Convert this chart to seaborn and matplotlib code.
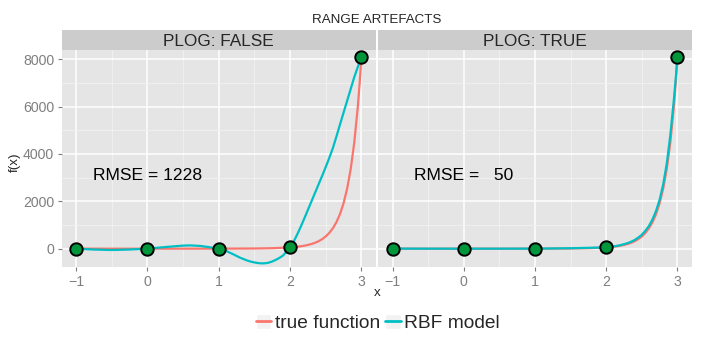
import matplotlib
matplotlib.use("Agg")
import matplotlib.pyplot as plt
import pandas as pd
import seaborn as sns
from matplotlib.lines import Line2D
from matplotlib.patches import Patch
from matplotlib.legend_handler import HandlerTuple
from matplotlib.ticker import FixedLocator

# curves sampled off the reference chart
true_x = [-1.0, -0.5, 0.0, 0.5, 1.0, 1.25, 1.5, 1.75, 2.0, 2.05, 2.1, 2.15,
          2.2, 2.25, 2.3, 2.35, 2.4, 2.45, 2.5, 2.55, 2.6, 2.65, 2.7, 2.75,
          2.8, 2.85, 2.9, 2.95, 2.975, 3.0]
true_y = [3, 1, 1, 1, 3, 5, 9, 21, 55, 67, 82, 101,
          127, 158, 199, 250, 317, 404, 518, 668, 864, 1123, 1466, 1924,
          2540, 3370, 4490, 6020, 6980, 8103]

rbf_false_x = [-1.0, -0.75, -0.5, -0.25, 0.0, 0.25, 0.5, 0.6, 0.75, 0.9, 1.0,
               1.1, 1.2, 1.3, 1.4, 1.45, 1.5, 1.55, 1.6, 1.65, 1.7, 1.75, 1.8,
               1.85, 1.9, 1.95, 2.0, 2.05, 2.1, 2.15, 2.2, 2.25, 2.3, 2.35,
               2.4, 2.45, 2.5, 2.55, 2.6, 2.65, 2.7, 2.75, 2.8, 2.85, 2.9,
               2.95, 3.0]
rbf_false_y = [3, -35, -55, -35, 1, 70, 130, 140, 115, 50, 3,
               -90, -230, -380, -500, -545, -580, -605, -620, -615, -590, -540, -470,
               -390, -290, -130, 55, 300, 600, 930, 1280, 1640, 2000, 2360,
               2720, 3080, 3450, 3840, 4250, 4740, 5250, 5750, 6250, 6750, 7250,
               7680, 8103]

rbf_true_x = [-1.0, -0.5, 0.0, 0.5, 1.0, 1.5, 2.0, 2.1, 2.2, 2.3, 2.35, 2.4,
              2.45, 2.5, 2.55, 2.6, 2.65, 2.7, 2.75, 2.8, 2.85, 2.9, 2.95,
              2.975, 3.0]
rbf_true_y = [3, 2, 1, 2, 3, 20, 55, 95, 150, 235, 295, 370,
              470, 590, 760, 960, 1240, 1600, 2070, 2720, 3600, 4800, 6300,
              7150, 8103]

pts_x = [-1, 0, 1, 2, 3]
pts_y = [3, 1, 3, 55, 8103]

panels = ["PLOG: FALSE", "PLOG: TRUE"]
rmse = [1228, 50]
series = ["true function", "RBF model"]
colors = {"true function": "#F8766D", "RBF model": "#00BFC4"}

frames = []
for panel, rx, ry in [(panels[0], rbf_false_x, rbf_false_y),
                      (panels[1], rbf_true_x, rbf_true_y)]:
    frames.append(pd.DataFrame({"x": true_x, "y": true_y,
                                "series": series[0], "panel": panel}))
    frames.append(pd.DataFrame({"x": rx, "y": ry,
                                "series": series[1], "panel": panel}))
df = pd.concat(frames, ignore_index=True)
pts = pd.DataFrame({"x": pts_x, "y": pts_y})

sns.set_style("white")
plt.rcParams["font.family"] = ["Liberation Sans", "DejaVu Sans"]

W, H = 706, 353
fig = plt.figure(figsize=(W / 100, H / 100), dpi=100)
fig.patch.set_facecolor("white")

panel_boxes = [(61.7, 375.7), (378.3, 691.7)]
top, bottom = 50, 266.7

for i, (x0, x1) in enumerate(panel_boxes):
    ax = fig.add_axes([x0 / W, (H - bottom) / H, (x1 - x0) / W, (bottom - top) / H])
    ax.set_facecolor("#E5E5E5")
    for s in ax.spines.values():
        s.set_visible(False)

    sub = df[df["panel"] == panels[i]]
    sns.lineplot(data=sub, x="x", y="y", hue="series", hue_order=series,
                 palette=colors, sort=False, estimator=None, linewidth=1.6,
                 legend=False, ax=ax, zorder=3)
    sns.scatterplot(data=pts, x="x", y="y", color="#00963C", edgecolor="black",
                    linewidth=1.4, s=80, ax=ax, zorder=5, clip_on=False)

    ax.set_xlim(-1.2, 3.2)
    ax.set_ylim(-760, 8392)
    ax.set_xticks([-1, 0, 1, 2, 3])
    ax.set_yticks([0, 2000, 4000, 6000, 8000])
    ax.xaxis.set_minor_locator(FixedLocator([-0.5, 0.5, 1.5, 2.5]))
    ax.yaxis.set_minor_locator(FixedLocator([1000, 3000, 5000, 7000]))
    ax.grid(which="minor", color="#F2F2F2", linewidth=0.6, zorder=0)
    ax.grid(which="major", color="white", linewidth=1.1, zorder=1)
    ax.set_axisbelow(True)
    ax.tick_params(axis="both", which="major", length=3, width=0.8,
                   color="#7F7F7F", labelcolor="#7F7F7F", labelsize=10.2,
                   bottom=True, left=(i == 0), labelleft=(i == 0))
    ax.tick_params(axis="x", which="major", pad=3.2)
    ax.tick_params(axis="y", which="major", pad=2.5)
    ax.tick_params(axis="both", which="minor", length=0)
    ax.set_xlabel("")
    ax.set_ylabel("")

    ax.text(0, 3100, f"RMSE = {rmse[i]:4d}", ha="center", va="center",
            fontsize=12.6, color="black", zorder=6)

    strip = fig.add_axes([x0 / W, (H - top) / H, (x1 - x0) / W, 20 / H])
    strip.set_facecolor("#CCCCCC")
    strip.set_xticks([])
    strip.set_yticks([])
    for s in strip.spines.values():
        s.set_visible(False)
    strip.text(0.5, 0.45, panels[i], ha="center", va="center",
               fontsize=12.4, transform=strip.transAxes)

fig.text(377 / W, 1 - 20 / H, "RANGE ARTEFACTS", ha="center", va="center",
         fontsize=9.6)
fig.text(377 / W, 1 - 293 / H, "x", ha="center", va="center", fontsize=9.6)
fig.text(15 / W, 1 - 162 / H, "f(x)", ha="center", va="center", rotation=90,
         fontsize=9.6)

handles = [(Patch(facecolor="#F2F2F2", edgecolor="white"),
            Line2D([], [], color=colors[s], linewidth=2)) for s in series]
fig.legend(handles, series, handler_map={tuple: HandlerTuple(ndivide=1)},
           loc="center", bbox_to_anchor=(378 / W, 1 - 323 / H), ncol=2,
           frameon=False, fontsize=13.8, handlelength=0.8, handleheight=0.8,
           handletextpad=0.2, columnspacing=0.25)

fig.savefig("out.png", dpi=100)
